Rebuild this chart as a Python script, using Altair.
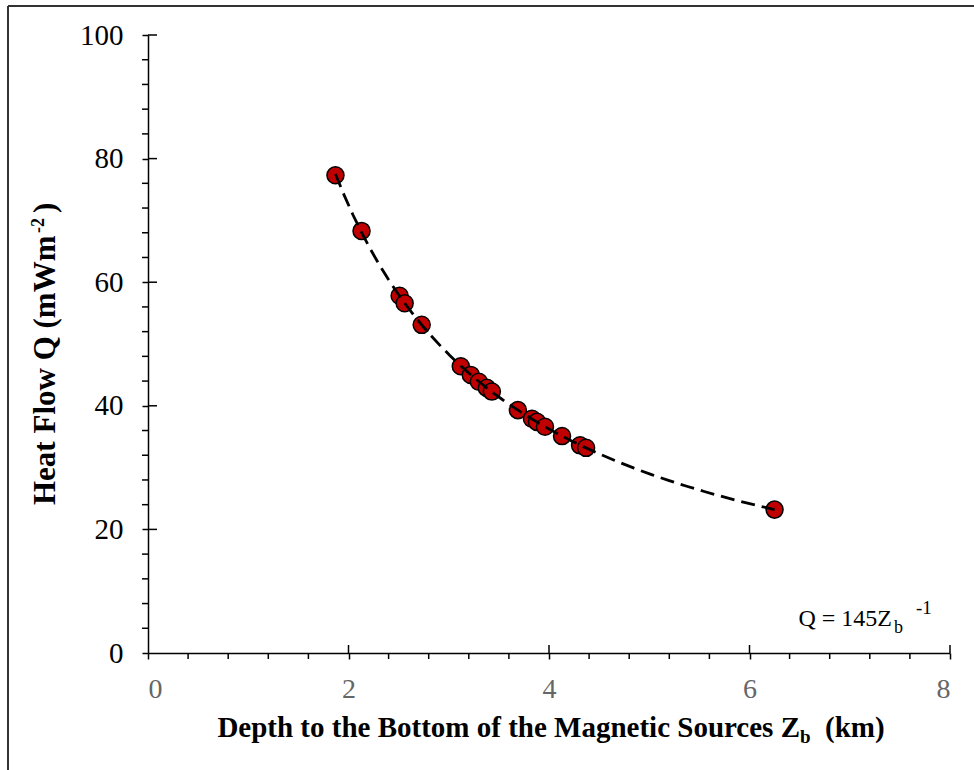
import altair as alt
import pandas as pd

# Data
depth_km = [1.87, 2.13, 2.51, 2.56, 2.73, 3.12, 3.22, 3.30, 3.38, 3.43,
            3.69, 3.83, 3.88, 3.96, 4.13, 4.31, 4.37, 6.25]
heat_flow = [77.3, 68.3, 57.8, 56.6, 53.1, 46.4, 45.0, 43.9, 42.9, 42.3,
             39.3, 37.9, 37.4, 36.6, 35.1, 33.6, 33.2, 23.2]

x_major = [0, 2, 4, 6, 8]
y_major = [0, 20, 40, 60, 80, 100]
x_minor = [0.4, 0.8, 1.2, 1.6, 2.4, 2.8, 3.2, 3.6, 4.4, 4.8, 5.2, 5.6,
           6.4, 6.8, 7.2, 7.6]
y_minor = [4, 8, 12, 16, 24, 28, 32, 36, 44, 48, 52, 56, 64, 68, 72, 76,
           84, 88, 92, 96]

df = pd.DataFrame({"z": depth_km, "q": heat_flow})
df_xm = pd.DataFrame({"v": x_major[1:]})
df_ym = pd.DataFrame({"v": y_major[1:]})
df_xn = pd.DataFrame({"v": x_minor})
df_yn = pd.DataFrame({"v": y_minor})

FONT = "Liberation Serif"
W, H = 802, 618

xscale = alt.Scale(domain=[0, 8], nice=False, zero=False)
yscale = alt.Scale(domain=[0, 100], nice=False, zero=False)

x_axis = alt.Axis(
    values=x_major, title=None, grid=False, format="d",
    labelFont=FONT, labelFontSize=28, labelColor="#666666", labelPadding=16,
    labelOverlap=False, tickSize=6, tickWidth=1.5, tickColor="#000000",
    domainColor="#000000", domainWidth=1.5,
)
y_axis = alt.Axis(
    values=y_major, title=None, grid=False, format="d",
    labelFont=FONT, labelFontSize=29, labelColor="#000000", labelPadding=19,
    labelOverlap=False, tickSize=6, tickWidth=1.5, tickColor="#000000",
    domainColor="#000000", domainWidth=1.5,
)

points = alt.Chart(df).mark_point(
    filled=True, shape="circle", size=290, fill="#C00000",
    stroke="#000000", strokeWidth=1.5, opacity=1,
).encode(
    x=alt.X("z:Q", scale=xscale, axis=x_axis),
    y=alt.Y("q:Q", scale=yscale, axis=y_axis),
)

fit = alt.Chart(df).transform_regression(
    "z", "q", method="pow"
).mark_line(
    color="#000000", strokeWidth=2.8, strokeDash=[14, 7]
).encode(
    x=alt.X("z:Q", scale=xscale),
    y=alt.Y("q:Q", scale=yscale),
)

RULE = dict(color="#000000", strokeWidth=1.5)
x_inner = alt.Chart(df_xm).mark_rule(**RULE).encode(
    x=alt.X("v:Q", scale=xscale), y=alt.value(H - 8), y2=alt.value(H),
)
y_inner = alt.Chart(df_ym).mark_rule(**RULE).encode(
    y=alt.Y("v:Q", scale=yscale), x=alt.value(0), x2=alt.value(9),
)
x_minor_r = alt.Chart(df_xn).mark_rule(**RULE).encode(
    x=alt.X("v:Q", scale=xscale), y=alt.value(H), y2=alt.value(H + 6),
)
y_minor_r = alt.Chart(df_yn).mark_rule(**RULE).encode(
    y=alt.Y("v:Q", scale=yscale), x=alt.value(-6), x2=alt.value(0),
)

border_top = alt.Chart(df_xm).mark_rule(color="#333333", strokeWidth=2).encode(
    x=alt.value(-140), x2=alt.value(830), y=alt.value(-29),
)
border_left = alt.Chart(df_xm).mark_rule(color="#333333", strokeWidth=2).encode(
    x=alt.value(-140), y=alt.value(-29), y2=alt.value(740),
)

def txt(text, x, y, size, bold=False, align="left", angle=0):
    return alt.Chart(df_xm).transform_filter("datum.v === 2").mark_text(
        text=text, font=FONT, fontSize=size,
        fontWeight="bold" if bold else "normal",
        align=align, baseline="alphabetic", angle=angle, color="#000000",
    ).encode(x=alt.value(x), y=alt.value(y))

# x-axis title with subscript
xt1 = txt("Depth to the Bottom of the Magnetic Sources Z", 652, 702, 29, bold=True, align="right")
xt2 = txt("b", 652, 708, 19, bold=True)
xt3 = txt("(km)", 677, 702, 29, bold=True)

# y-axis title with superscript
yt1 = txt("Heat Flow Q (mWm", -93, 470, 31, bold=True, angle=270)
yt2 = txt("-2", -104, 198, 18, bold=True, angle=270)
yt3 = txt(")", -93, 178, 31, bold=True, angle=270)

# equation annotation
eq1 = txt("Q = 145Z", 744, 591, 24, align="right")
eq2 = txt("b", 746, 598, 18)
eq3 = txt("-1", 768, 579, 19)

chart = alt.layer(
    border_top, border_left, x_minor_r, y_minor_r, x_inner, y_inner,
    points, fit,
    xt1, xt2, xt3, yt1, yt2, yt3, eq1, eq2, eq3,
).properties(
    width=W, height=H,
    autosize=alt.AutoSizeParams(type="none"),
    padding={"left": 148, "top": 35, "right": 24, "bottom": 117},
    background="white",
).configure_view(stroke=None)

chart.save("out.html", embed_options={"renderer": "svg", "actions": False})
